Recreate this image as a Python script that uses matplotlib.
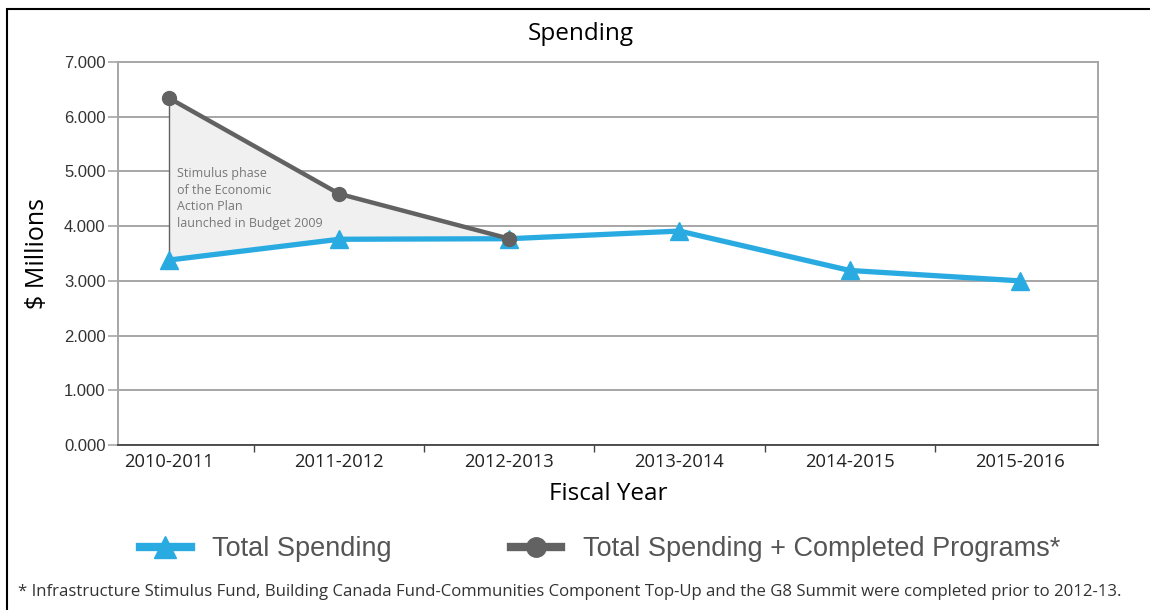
import numpy as np
import matplotlib
matplotlib.use("Agg")
import matplotlib.pyplot as plt
from matplotlib.lines import Line2D
from matplotlib.patches import Rectangle

years = ["2010-2011", "2011-2012", "2012-2013", "2013-2014", "2014-2015", "2015-2016"]
total_spending = [3380, 3760, 3770, 3910, 3190, 3000]
completed_years = ["2010-2011", "2011-2012", "2012-2013"]
total_plus_completed = [6340, 4590, 3770]
y_ticks = [0, 1000, 2000, 3000, 4000, 5000, 6000, 7000]

blue = "#29abe2"
dgrey = "#626262"

fig = plt.figure(figsize=(11.5, 6.1), dpi=100)
ax = fig.add_axes([0.1026, 0.2705, 0.8522, 0.6279])

x = np.arange(len(years))
xc = np.arange(len(completed_years))

# shaded stimulus area
ax.fill_between(xc, total_spending[:len(xc)], total_plus_completed, color="#f0f0f0", zorder=1, lw=0)
ax.plot([xc[0], xc[0]], [total_spending[0], total_plus_completed[0]], color=dgrey, lw=1, zorder=2)

ax.plot(x, total_spending, color=blue, lw=3.8, marker="^", ms=13, zorder=4)
ax.plot(xc, total_plus_completed, color=dgrey, lw=3.2, marker="o", ms=10, zorder=5)

ax.text(0.045, 5080, "Stimulus phase\nof the Economic\nAction Plan\nlaunched in Budget 2009",
        fontsize=9, color="#777777", family="Open Sans", va="top", ha="left",
        linespacing=1.35, zorder=6)

ax.set_xlim(-0.30, 5.46)
ax.set_ylim(0, 7000)
ax.set_yticks(y_ticks)
ax.set_yticklabels(["{:.3f}".format(v / 1000) for v in y_ticks], family="Liberation Sans", fontsize=12, color="#333333")
ax.yaxis.grid(True, color="#a6a6a6", lw=1.4, zorder=0)
ax.set_axisbelow(True)
ax.tick_params(axis="y", length=7, width=1.2, color="#a6a6a6", pad=2)

ax.set_xticks(x)
ax.set_xticklabels(years, family="Open Sans", fontsize=13.2, color="#222222")
ax.set_xticks(x[:-1] + 0.5, minor=True)
ax.tick_params(axis="x", which="major", length=0, pad=6)
ax.tick_params(axis="x", which="minor", length=5, color="#444444", width=1)

for s in ["left", "right", "top"]:
    ax.spines[s].set_color("#a6a6a6")
    ax.spines[s].set_linewidth(1.4)
ax.spines["bottom"].set_color("#444444")
ax.spines["bottom"].set_linewidth(1.3)

ax.set_ylabel("$ Millions", family="Open Sans", fontsize=18, labelpad=10)
ax.set_xlabel("Fiscal Year", family="Open Sans", fontsize=17.5, labelpad=8)
fig.text(0.505, 0.945, "Spending", family="Open Sans", fontsize=17.5, ha="center", va="center")

handles = [Line2D([], [], color=blue, lw=6, marker="^", ms=16),
           Line2D([], [], color=dgrey, lw=6, marker="o", ms=14)]
fig.legend(handles, ["Total Spending", "Total Spending + Completed Programs*"],
           loc="center", bbox_to_anchor=(0.522, 0.1), ncol=2, frameon=False,
           prop={"family": "Liberation Sans", "size": 19.5}, handlelength=1.85,
           handletextpad=0.8, columnspacing=4.4, labelcolor="#555555")

fig.text(0.016, 0.029, "* Infrastructure Stimulus Fund, Building Canada Fund-Communities Component Top-Up and the G8 Summit were completed prior to 2012-13.",
         family="Open Sans", fontsize=12.1, color="#333333", ha="left", va="center")

fig.patches.append(Rectangle((7 / 1150, -0.1), 1.1, 1 - 9 / 610 + 0.1, transform=fig.transFigure,
                             fill=False, edgecolor="black", lw=1.5))

fig.savefig("out.png", dpi=100)
